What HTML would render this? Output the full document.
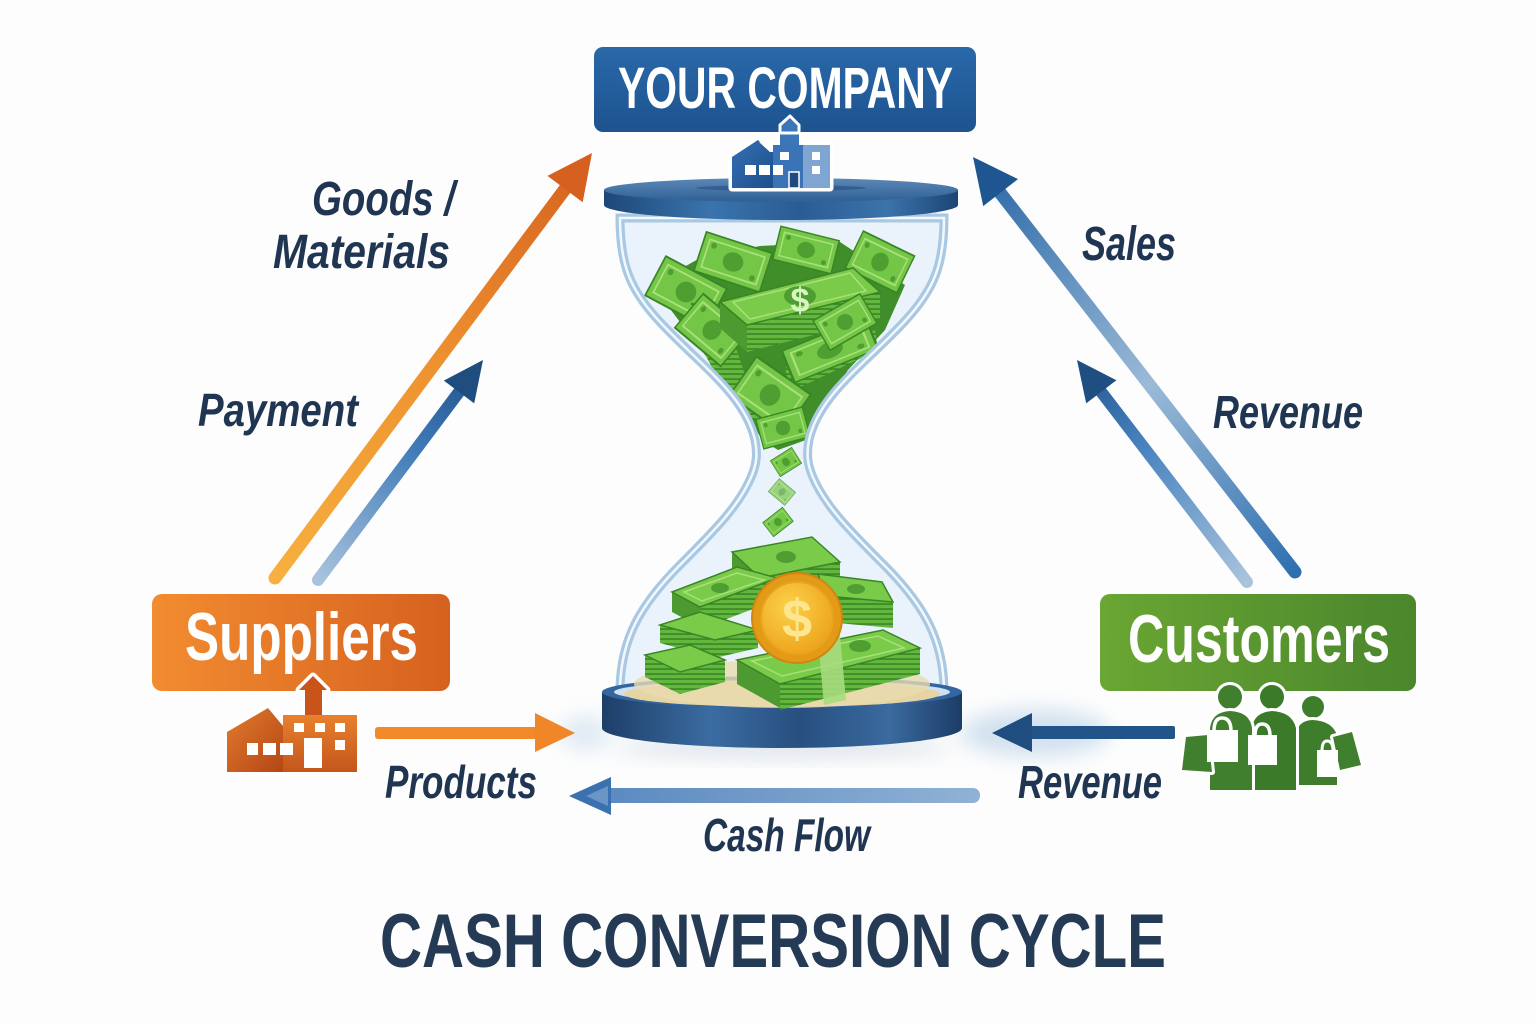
<!DOCTYPE html>
<html>
<head>
<meta charset="utf-8">
<style>
html,body{margin:0;padding:0;background:#fdfdfd;}
svg{display:block;}
.lbl{font-family:"Liberation Sans Narrow","Liberation Sans",sans-serif;font-weight:bold;font-style:italic;fill:#1f3551;}
.box{font-family:"Liberation Sans Narrow","Liberation Sans",sans-serif;font-weight:bold;fill:#ffffff;}
</style>
</head>
<body>
<svg width="1536" height="1024" viewBox="0 0 1536 1024" xmlns="http://www.w3.org/2000/svg">
<defs>
  <linearGradient id="gCompany" x1="0" y1="0" x2="0" y2="1">
    <stop offset="0" stop-color="#2a68a9"/><stop offset="1" stop-color="#1d538f"/>
  </linearGradient>
  <linearGradient id="gOrange" x1="0" y1="0" x2="1" y2="0">
    <stop offset="0" stop-color="#f28c30"/><stop offset="1" stop-color="#d6611f"/>
  </linearGradient>
  <linearGradient id="gGreen" x1="0" y1="0" x2="1" y2="0">
    <stop offset="0" stop-color="#6aa633"/><stop offset="1" stop-color="#4a862c"/>
  </linearGradient>
  <linearGradient id="aOrange" gradientUnits="userSpaceOnUse" x1="275" y1="578" x2="592" y2="153">
    <stop offset="0" stop-color="#f7b03f"/><stop offset="0.5" stop-color="#ee922f"/><stop offset="1" stop-color="#d5601f"/>
  </linearGradient>
  <linearGradient id="aPay" gradientUnits="userSpaceOnUse" x1="318" y1="580" x2="483" y2="360">
    <stop offset="0" stop-color="#a9c3dd"/><stop offset="0.6" stop-color="#3f7ab8"/><stop offset="1" stop-color="#1f4f85"/>
  </linearGradient>
  <linearGradient id="aSales" gradientUnits="userSpaceOnUse" x1="1295" y1="572" x2="973" y2="157">
    <stop offset="0" stop-color="#2f6fb0"/><stop offset="0.45" stop-color="#9bbad7"/><stop offset="1" stop-color="#2564a4"/>
  </linearGradient>
  <linearGradient id="aRev" gradientUnits="userSpaceOnUse" x1="1247" y1="582" x2="1077" y2="360">
    <stop offset="0" stop-color="#a9c3dc"/><stop offset="0.6" stop-color="#4a84c0"/><stop offset="1" stop-color="#21558e"/>
  </linearGradient>
  <linearGradient id="aCash" x1="0" y1="0" x2="1" y2="0">
    <stop offset="0" stop-color="#5b89c0"/><stop offset="1" stop-color="#90b2d5"/>
  </linearGradient>
  <linearGradient id="capSide" x1="0" y1="0" x2="1" y2="0">
    <stop offset="0" stop-color="#1e4778"/><stop offset="0.3" stop-color="#3a74ad"/><stop offset="0.55" stop-color="#2a5c93"/><stop offset="0.8" stop-color="#3b73ab"/><stop offset="1" stop-color="#1d4574"/>
  </linearGradient>
  <linearGradient id="capTop" x1="0" y1="0" x2="0" y2="1">
    <stop offset="0" stop-color="#5b88b7"/><stop offset="1" stop-color="#2f5f94"/>
  </linearGradient>
  <linearGradient id="baseSide" x1="0" y1="0" x2="1" y2="0">
    <stop offset="0" stop-color="#1d3e69"/><stop offset="0.3" stop-color="#3b6ca1"/><stop offset="0.55" stop-color="#284f80"/><stop offset="0.8" stop-color="#3a6a9e"/><stop offset="1" stop-color="#1c3c66"/>
  </linearGradient>
  <radialGradient id="coinG" cx="0.4" cy="0.35" r="0.7">
    <stop offset="0" stop-color="#fcd24a"/><stop offset="1" stop-color="#eda21b"/>
  </radialGradient>
  <linearGradient id="facL" x1="0" y1="0" x2="1" y2="1">
    <stop offset="0" stop-color="#e27c2c"/><stop offset="1" stop-color="#b44616"/>
  </linearGradient>
  <linearGradient id="facR" x1="0" y1="0" x2="0" y2="1">
    <stop offset="0" stop-color="#e8812e"/><stop offset="1" stop-color="#c4561b"/>
  </linearGradient>
  <linearGradient id="bldL" x1="0" y1="0" x2="1" y2="1">
    <stop offset="0" stop-color="#3470b3"/><stop offset="1" stop-color="#1d4f8c"/>
  </linearGradient>
  <pattern id="stripes" width="6" height="5" patternUnits="userSpaceOnUse">
    <rect width="6" height="5" fill="#62b73c"/>
    <rect y="3.4" width="6" height="1.3" fill="#2e7a22"/>
  </pattern>
  <path id="glass" d="M620,218 C620,265 630,290 660,322 C700,365 745,395 755,440 C758,455 756,465 752,475 C740,505 715,530 680,565 C640,605 620,640 620,692 L944,692 C944,640 924,605 884,565 C849,530 824,505 812,475 C808,465 806,455 809,440 C819,395 864,365 904,322 C934,290 944,265 944,218 Z"/>
  <clipPath id="glassClip"><use href="#glass"/></clipPath>
  <g id="bill">
    <rect x="-30" y="-17" width="60" height="34" fill="#74c646" stroke="#3a8527" stroke-width="1.5"/>
    <rect x="-25" y="-12" width="50" height="24" fill="none" stroke="#a9e07b" stroke-width="1.5"/>
    <ellipse cx="0" cy="0" rx="9" ry="8" fill="#4f9e32"/>
    <circle cx="-20" cy="-8" r="2.5" fill="#4f9e32"/>
    <circle cx="20" cy="8" r="2.5" fill="#4f9e32"/>
  </g>
  <filter id="blur8" x="-50%" y="-50%" width="200%" height="200%"><feGaussianBlur stdDeviation="10"/></filter>
</defs>

<rect width="1536" height="1024" fill="#fdfdfd"/>

<!-- glows -->
<ellipse cx="1035" cy="733" rx="75" ry="24" fill="#c3d8ea" opacity="0.75" filter="url(#blur8)"/>
<ellipse cx="585" cy="733" rx="25" ry="18" fill="#c3d8ea" opacity="0.5" filter="url(#blur8)"/>
<ellipse cx="782" cy="748" rx="170" ry="10" fill="#b9c9d8" opacity="0.5" filter="url(#blur8)"/>

<!-- Diagonal arrows -->
<line x1="275" y1="578" x2="568" y2="185" stroke="url(#aOrange)" stroke-width="13" stroke-linecap="round"/>
<polygon points="592,153 582.7,202.3 547.5,175.9" fill="#d5601f"/>
<line x1="318" y1="580" x2="462" y2="388" stroke="url(#aPay)" stroke-width="12" stroke-linecap="round"/>
<polygon points="483,360 474.2,403.4 443.8,380.6" fill="#1f4d80"/>
<line x1="1295" y1="572" x2="998" y2="190" stroke="url(#aSales)" stroke-width="13" stroke-linecap="round"/>
<polygon points="973,157 1018,179.1 983.2,206.1" fill="#1f5590"/>
<line x1="1247" y1="582" x2="1099" y2="389" stroke="url(#aRev)" stroke-width="12" stroke-linecap="round"/>
<polygon points="1077,360 1116.4,380.2 1086.2,403.4" fill="#1f4f80"/>

<!-- Horizontal arrows -->
<rect x="375" y="727" width="165" height="12" rx="3" fill="#f28a2c"/>
<polygon points="535,713 575,733 535,752" fill="#f08628"/>
<rect x="1028" y="726" width="147" height="13" rx="2" fill="#22548a"/>
<polygon points="1032,713 992,733 1032,752" fill="#1f4d80"/>
<rect x="600" y="788" width="380" height="15" rx="7" fill="url(#aCash)"/>
<polygon points="611,777 569,796 611,815" fill="#3c71b0"/>
<polygon points="608,786 586,796 608,806" fill="#6a95c6"/>

<!-- Hourglass glass fill -->
<use href="#glass" fill="#e3eff9" opacity="0.75"/>

<!-- Upper money -->
<g clip-path="url(#glassClip)">
  <polygon points="652,285 700,258 760,246 840,242 905,285 885,330 848,370 822,410 806,440 778,450 762,440 738,398 692,338" fill="#3f8e2a"/>
  <use href="#bill" transform="translate(686,292) rotate(28) scale(1.15,1.3)"/>
  <use href="#bill" transform="translate(733,262) rotate(18) scale(1.15,1.2)"/>
  <use href="#bill" transform="translate(806,250) rotate(14)"/>
  <use href="#bill" transform="translate(880,262) rotate(26) scale(0.95,1.2)"/>
  <polygon points="690,300 730,330 760,420 740,420 700,345" fill="url(#stripes)"/>
  <use href="#bill" transform="translate(712,330) rotate(40) scale(1.0,1.3)"/>
  <polygon points="747,325 880,292 880,318 747,352" fill="url(#stripes)"/>
  <polygon points="720,302 747,325 747,352 720,328" fill="#4d9a30"/>
  <polygon points="720,302 853,268 880,292 747,325" fill="#7acb49" stroke="#3a8527" stroke-width="1.5"/>
  <polygon points="733,302 850,273 866,291 750,319" fill="none" stroke="#a9e07b" stroke-width="1.5"/>
  <ellipse cx="800" cy="296" rx="16" ry="10" fill="#4f9e32"/>
  <text x="800" y="312" text-anchor="middle" font-family="Liberation Sans, sans-serif" font-weight="bold" font-size="34" fill="#d9f5c0">$</text>
  <polygon points="785,368 875,330 878,350 790,392" fill="url(#stripes)"/>
  <use href="#bill" transform="translate(830,350) rotate(-22) scale(1.5,1.0)"/>
  <use href="#bill" transform="translate(770,395) rotate(35) scale(1.1,1.4)"/>
  <use href="#bill" transform="translate(783,428) rotate(-15) scale(0.8,0.9)"/>
  <use href="#bill" transform="translate(845,322) rotate(-30) scale(0.9,1.0)"/>
</g>
<!-- falling bills -->
<use href="#bill" transform="translate(786,462) rotate(-32) scale(0.42,0.55)"/>
<use href="#bill" transform="translate(782,492) rotate(40) scale(0.36,0.5)" opacity="0.7"/>
<use href="#bill" transform="translate(778,522) rotate(-38) scale(0.42,0.52)"/>

<!-- glass outline -->
<use href="#glass" fill="none" stroke="#a9c8e2" stroke-width="9"/>
<use href="#glass" fill="none" stroke="#f2f8fd" stroke-width="2.5"/>

<!-- base -->
<path d="M602,692 L602,728 A180,20 0 0 0 962,728 L962,692 Z" fill="url(#baseSide)"/>
<ellipse cx="782" cy="692" rx="180" ry="16" fill="#3565a0"/>
<ellipse cx="782" cy="692" rx="168" ry="12" fill="#cfe0ee"/>
<ellipse cx="782" cy="694" rx="158" ry="13" fill="#e6d5a2"/>
<ellipse cx="782" cy="684" rx="148" ry="24" fill="#e9dbb0" opacity="0.8"/>

<!-- lower stacks -->
<polygon points="732,552 760,578 760,594 732,568" fill="#4d9a30"/>
<polygon points="760,578 840,562 840,578 760,594" fill="url(#stripes)"/>
<polygon points="732,552 812,537 840,562 760,578" fill="#7acb49" stroke="#3a8527" stroke-width="1.5"/>
<ellipse cx="786" cy="557" rx="10" ry="6" fill="#4f9e32"/>
<polygon points="818,574 826,596 826,622 818,600" fill="#4d9a30"/>
<polygon points="826,596 893,602 893,628 826,622" fill="url(#stripes)"/>
<polygon points="818,574 882,582 893,602 826,596" fill="#7acb49" stroke="#3a8527" stroke-width="1.5"/>
<ellipse cx="856" cy="589" rx="9" ry="5" fill="#4f9e32"/>
<polygon points="672,592 700,607 700,627 672,612" fill="#4d9a30"/>
<polygon points="700,607 777,578 777,600 700,629" fill="url(#stripes)"/>
<polygon points="672,592 737,567 777,578 700,607" fill="#7acb49" stroke="#3a8527" stroke-width="1.5"/>
<polygon points="684,592 737,573 764,580 702,601" fill="none" stroke="#a9e07b" stroke-width="1.5"/>
<ellipse cx="720" cy="588" rx="9" ry="5" fill="#4f9e32"/>
<polygon points="660,625 715,640 715,658 660,643" fill="url(#stripes)"/>
<polygon points="715,640 758,630 758,648 715,658" fill="url(#stripes)"/>
<polygon points="660,625 700,612 758,630 715,640" fill="#7acb49" stroke="#3a8527" stroke-width="1.5"/>
<polygon points="737,660 780,684 780,708 737,684" fill="#4d9a30"/>
<polygon points="780,684 920,648 920,674 780,710" fill="url(#stripes)"/>
<polygon points="737,660 883,630 920,648 780,684" fill="#7acb49" stroke="#3a8527" stroke-width="1.5"/>
<polygon points="752,661 878,636 904,648 782,676" fill="none" stroke="#a9e07b" stroke-width="1.5"/>
<ellipse cx="860" cy="646" rx="11" ry="6" fill="#4f9e32"/>
<polygon points="818,640 840,635 846,700 824,705" fill="#a7dc7e" opacity="0.9"/>
<polygon points="645,655 680,672 680,694 645,677" fill="url(#stripes)"/>
<polygon points="680,672 725,660 725,682 680,694" fill="url(#stripes)"/>
<polygon points="645,655 690,645 725,660 680,672" fill="#7acb49" stroke="#3a8527" stroke-width="1.5"/>

<!-- coin -->
<circle cx="797" cy="618" r="45" fill="#e39a17" stroke="#d08610" stroke-width="2"/>
<circle cx="797" cy="618" r="36" fill="url(#coinG)" stroke="#e8a41e" stroke-width="2"/>
<text x="797" y="637" text-anchor="middle" font-family="Liberation Sans, sans-serif" font-weight="bold" font-size="54" fill="#fde68f">$</text>

<!-- top cap -->
<path d="M604,190 L604,205 A177,15 0 0 0 958,205 L958,190 Z" fill="url(#capSide)"/>
<ellipse cx="781" cy="190" rx="177" ry="12" fill="url(#capTop)"/>
<ellipse cx="781" cy="188" rx="85" ry="3" fill="#244f80" opacity="0.6"/>

<!-- company building icon -->
<g stroke="#ffffff" stroke-width="7" stroke-linejoin="round" fill="#ffffff">
  <polygon points="780,147 780,125 790,116 799,125 799,147"/>
  <polygon points="732,188 732,157 758,140 770,152 773,152 773,188"/>
  <rect x="773" y="145" width="57" height="43"/>
</g>
<polygon points="780,147 780,125 790,116 799,125 799,147" fill="#3a76b8"/>
<polygon points="732,188 732,157 758,140 770,152 773,152 773,188" fill="url(#bldL)"/>
<polygon points="759,142 770,152 770,144" fill="#ffffff"/>
<rect x="773" y="145" width="30" height="43" fill="#3a74b6"/>
<rect x="803" y="145" width="27" height="43" fill="#7fa6d3"/>
<rect x="745" y="165" width="11" height="10" fill="#fff"/>
<rect x="759" y="165" width="11" height="10" fill="#fff"/>
<rect x="773" y="165" width="10" height="10" fill="#fff"/>
<rect x="780" y="152" width="9" height="8" fill="#fff"/>
<rect x="812" y="152" width="8" height="8" fill="#fff"/>
<rect x="812" y="166" width="8" height="8" fill="#fff"/>
<rect x="789" y="172" width="10" height="16" fill="#1d4a80" stroke="#fff" stroke-width="1.5"/>

<!-- Boxes -->
<rect x="594" y="47" width="382" height="85" rx="9" fill="url(#gCompany)"/>
<text class="box" x="618" y="108" font-size="58" textLength="335" lengthAdjust="spacingAndGlyphs">YOUR COMPANY</text>

<rect x="152" y="594" width="298" height="97" rx="10" fill="url(#gOrange)"/>
<text class="box" x="185" y="660" font-size="68" textLength="233" lengthAdjust="spacingAndGlyphs">Suppliers</text>

<rect x="1100" y="594" width="316" height="97" rx="10" fill="url(#gGreen)"/>
<text class="box" x="1128" y="662" font-size="68" textLength="262" lengthAdjust="spacingAndGlyphs">Customers</text>

<polygon points="780,133 780,125 790,116 799,125 799,133" fill="#3a76b8" stroke="#fff" stroke-width="3" stroke-linejoin="round"/>

<!-- Supplier factory -->
<g stroke="#ffffff" stroke-width="7" stroke-linejoin="round" fill="#ffffff">
  <polygon points="305,713 305,690 299,690 313,676 327,690 322,690 322,713"/>
  <polygon points="227,772 227,732 268,708 283,715 357,715 357,772"/>
</g>
<polygon points="305,715 305,690 299,690 313,676 327,690 322,690 322,715" fill="#c9541a"/>
<polygon points="227,772 227,732 268,708 283,725 283,772" fill="url(#facL)"/>
<polygon points="268,708 283,712 283,726" fill="#ffffff"/>
<rect x="283" y="715" width="74" height="57" fill="url(#facR)"/>
<rect x="247" y="743" width="11" height="12" fill="#fff"/>
<rect x="263" y="743" width="13" height="12" fill="#fff"/>
<rect x="280" y="743" width="13" height="12" fill="#fff"/>
<rect x="294" y="723" width="10" height="9" fill="#fff"/>
<rect x="315" y="723" width="10" height="9" fill="#fff"/>
<rect x="335" y="723" width="10" height="9" fill="#fff"/>
<rect x="335" y="740" width="10" height="10" fill="#fff"/>
<rect x="304" y="738" width="18" height="30" fill="#fff"/>

<!-- Customers people -->
<g stroke="#ffffff" stroke-width="6" stroke-linejoin="round" paint-order="stroke">
  <circle cx="1313" cy="707" r="11" fill="#3e7d2c"/>
  <path d="M1296,785 L1296,735 Q1298,720 1313,720 Q1332,721 1337,735 L1337,785 Z" fill="#3e7d2c"/>
  <path d="M1333,737 L1352,732 L1361,765 L1340,770 Z" fill="#3f7f2d"/>
  <circle cx="1272" cy="697" r="12" fill="#3a7a29"/>
  <path d="M1252,790 L1252,728 Q1254,712 1272,711 Q1292,712 1296,728 L1296,790 Z" fill="#3a7a29"/>
  <circle cx="1230" cy="697" r="12" fill="#3f7f2d"/>
  <path d="M1210,790 L1210,728 Q1212,712 1230,711 Q1250,712 1252,728 L1252,790 Z" fill="#3f7f2d"/>
  <path d="M1186,737 L1208,735 L1212,772 L1182,770 Z" fill="#3f7f2d"/>
</g>
<g fill="#ffffff" stroke="#ffffff">
  <rect x="1207" y="730" width="31" height="32" stroke-width="0"/>
  <path d="M1214,731 Q1214,718 1222,718 Q1231,718 1231,731" fill="none" stroke-width="3.5"/>
  <rect x="1248" y="735" width="29" height="30" stroke-width="0"/>
  <path d="M1255,736 Q1255,724 1262,724 Q1270,724 1270,736" fill="none" stroke-width="3.5"/>
  <rect x="1317" y="750" width="21" height="27" stroke-width="0"/>
  <path d="M1322,751 Q1322,741 1327,741 Q1333,741 1333,751" fill="none" stroke-width="3"/>
</g>

<!-- Labels -->
<text class="lbl" x="312" y="215" font-size="48" textLength="143" lengthAdjust="spacingAndGlyphs">Goods /</text>
<text class="lbl" x="273" y="268" font-size="48" textLength="177" lengthAdjust="spacingAndGlyphs">Materials</text>
<text class="lbl" x="198" y="426" font-size="46" textLength="160" lengthAdjust="spacingAndGlyphs">Payment</text>
<text class="lbl" x="1082" y="260" font-size="48" textLength="94" lengthAdjust="spacingAndGlyphs">Sales</text>
<text class="lbl" x="1213" y="428" font-size="46" textLength="150" lengthAdjust="spacingAndGlyphs">Revenue</text>
<text class="lbl" x="385" y="798" font-size="46" textLength="152" lengthAdjust="spacingAndGlyphs">Products</text>
<text class="lbl" x="1018" y="798" font-size="46" textLength="144" lengthAdjust="spacingAndGlyphs">Revenue</text>
<text class="lbl" x="703" y="851" font-size="46" textLength="167" lengthAdjust="spacingAndGlyphs">Cash Flow</text>

<!-- Title -->
<text x="380" y="967" font-family="Liberation Sans Narrow, Liberation Sans, sans-serif" font-weight="bold" font-size="76" fill="#243a55" textLength="786" lengthAdjust="spacingAndGlyphs">CASH CONVERSION CYCLE</text>
</svg>
</body>
</html>
